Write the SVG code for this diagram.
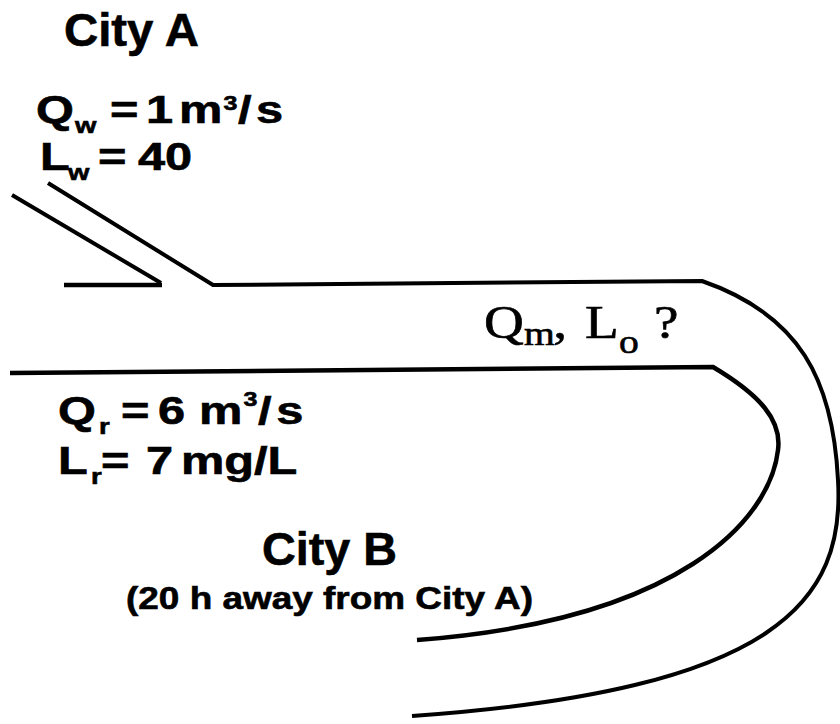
<svg xmlns="http://www.w3.org/2000/svg" width="840" height="724" viewBox="0 0 840 724">
<style>
.ln{fill:none;stroke:#000;stroke-width:4.5;stroke-linecap:butt;stroke-linejoin:miter}
.thin{stroke-width:4}
.sb{font-family:"Liberation Sans",Arial,sans-serif;font-weight:bold;fill:#000;stroke:#000;stroke-width:0.6}
.sr{font-family:"Liberation Serif","Times New Roman",serif;fill:#000;stroke:#000;stroke-width:0.6}
</style>
<rect width="840" height="724" fill="#fff"/>
<g id="connectors">
  <path class="ln thin" d="M 48 183 L 213 285 L 702 281 C 800 315, 833 380, 838 480 C 845 600, 780 690, 412 716"/>
  <path class="ln thin" d="M 12 195 L 161 283"/>
  <path class="ln" stroke-width="5.5" stroke-linecap="round" d="M 64 285 L 162 285"/>
  <path class="ln" d="M 10 373 L 713 367 C 760 395, 782 420, 778 450 C 770 520, 680 620, 417 640"/>
</g>
<g id="cityA">
  <text class="sb" x="64" y="46" font-size="46" textLength="135" lengthAdjust="spacingAndGlyphs">City A</text>
</g>
<g id="wastewater">
  <text class="sb" font-size="39" transform="scale(1.25,1)"><tspan x="28.8" y="123">Q</tspan><tspan x="60" y="133" font-size="22">w</tspan><tspan x="88" y="123">=</tspan><tspan x="116.8" y="123">1</tspan><tspan x="143.2" y="123">m</tspan><tspan x="178.8" y="110" font-size="20">3</tspan><tspan x="190.4" y="123">/</tspan><tspan x="204.8" y="123">s</tspan></text>
  <text class="sb" font-size="39" transform="scale(1.25,1)"><tspan x="32" y="170">L</tspan><tspan x="54.4" y="180" font-size="22">w</tspan><tspan x="78.4" y="170">=</tspan><tspan x="110.4" y="170">40</tspan></text>
</g>
<g id="mix">
  <text class="sr" font-size="46" transform="scale(1.2,1)"><tspan x="403.3" y="338">Q</tspan><tspan x="436.7" y="345" font-size="33">m</tspan><tspan x="461" y="338">,</tspan><tspan x="487.5" y="338">L</tspan><tspan x="515.8" y="353" font-size="33">o</tspan><tspan x="545" y="338">?</tspan></text>
</g>
<g id="river">
  <text class="sb" font-size="39" transform="scale(1.25,1)"><tspan x="46.4" y="424">Q</tspan><tspan x="79.2" y="434" font-size="22">r</tspan><tspan x="96.8" y="424">=</tspan><tspan x="126.4" y="424">6</tspan><tspan x="159.2" y="424">m</tspan><tspan x="194.8" y="406" font-size="20">3</tspan><tspan x="206.4" y="424">/</tspan><tspan x="221" y="424">s</tspan></text>
  <text class="sb" font-size="39" transform="scale(1.25,1)"><tspan x="46.4" y="474">L</tspan><tspan x="72.8" y="484" font-size="22">r</tspan><tspan x="80.8" y="474">=</tspan><tspan x="116.8" y="474">7</tspan><tspan x="144.8" y="474">mg/L</tspan></text>
</g>
<g id="cityB">
  <text class="sb" x="262" y="565" font-size="46" textLength="135" lengthAdjust="spacingAndGlyphs">City B</text>
  <text class="sb" x="126" y="609" font-size="31" textLength="407" lengthAdjust="spacingAndGlyphs">(20 h away from City A)</text>
</g>
</svg>
